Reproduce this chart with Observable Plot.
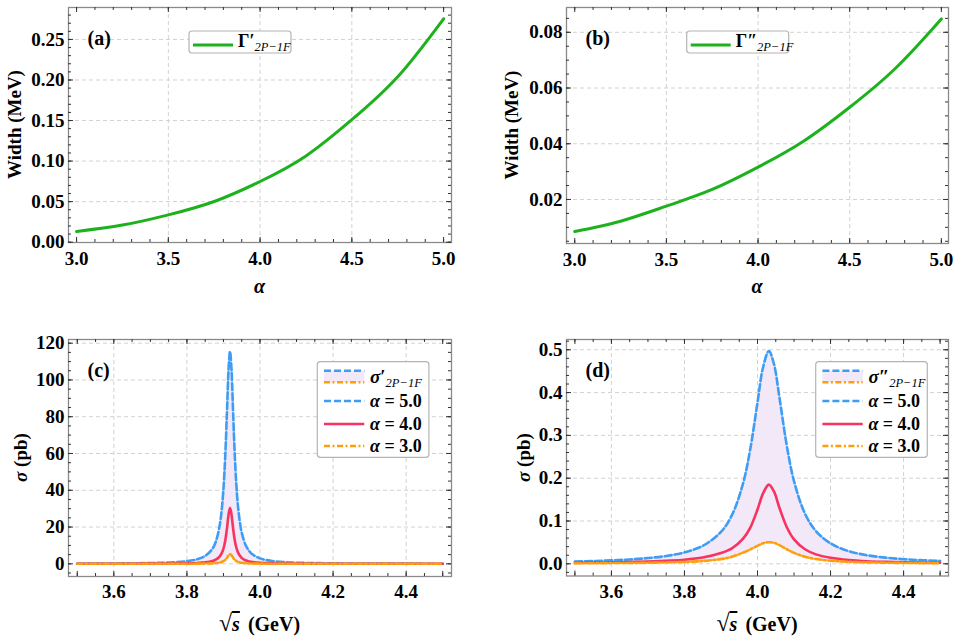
<!DOCTYPE html>
<html><head><meta charset="utf-8">
<script src="https://cdn.jsdelivr.net/npm/d3@7"></script>
<script src="https://cdn.jsdelivr.net/npm/@observablehq/plot@0.6"></script>
<style>
html,body{margin:0;padding:0;background:#fff;}
#wrap{position:relative;width:959px;height:636px;overflow:hidden;background:#fff;}
.panel{position:absolute;}
#wrap svg, #wrap svg text{font-family:"Liberation Serif","Times New Roman",Times,"DejaVu Serif",serif;}
</style></head><body><div id="wrap"></div>
<script>
// ---------- data ----------
const alphaValues = [3.0, 3.25, 3.5, 3.75, 4.0, 4.25, 4.5, 4.75, 5.0];
const widthPrime = [0.0132, 0.0211, 0.0337, 0.0502, 0.0748, 0.1063, 0.151, 0.204, 0.2755];
const widthDoublePrime = [0.0085, 0.0122, 0.0176, 0.0236, 0.0316, 0.041, 0.0531, 0.0671, 0.0848];

const sqrtsC = [3.5, 3.6, 3.7, 3.75, 3.8, 3.83, 3.85, 3.87, 3.88, 3.89, 3.895, 3.9, 3.905, 3.91, 3.914, 3.918, 3.922, 3.926, 3.93, 3.935, 3.94, 3.945, 3.95, 3.96, 3.97, 3.98, 4.0, 4.03, 4.07, 4.1, 4.2, 4.3, 4.4, 4.5];
const sigmaC_a5 = [0.117, 0.202, 0.428, 0.72, 1.45, 2.58, 4.26, 8.23, 12.6, 21.3, 28.9, 40.8, 59.1, 84.8, 105.9, 115.5, 105.9, 84.8, 63.7, 43.9, 30.9, 22.6, 17.0, 10.5, 7.09, 5.08, 2.96, 1.61, 0.878, 0.613, 0.256, 0.140, 0.088, 0.060];
const sigmaC_a4 = [0.0211, 0.0365, 0.0774, 0.130, 0.263, 0.469, 0.778, 1.52, 2.36, 4.08, 5.68, 8.29, 12.7, 19.9, 26.9, 30.5, 26.9, 19.9, 13.9, 9.0, 6.1, 4.34, 3.22, 1.96, 1.31, 0.93, 0.539, 0.291, 0.159, 0.111, 0.0463, 0.0253, 0.0159, 0.0109];
const sigmaC_a3 = [0.0036, 0.0062, 0.0132, 0.0222, 0.0448, 0.080, 0.133, 0.259, 0.402, 0.696, 0.968, 1.41, 2.17, 3.39, 4.59, 5.2, 4.59, 3.39, 2.37, 1.53, 1.04, 0.74, 0.549, 0.334, 0.223, 0.159, 0.092, 0.050, 0.027, 0.019, 0.0079, 0.0043, 0.0027, 0.0019];

const sqrtsD = [3.5, 3.55, 3.6, 3.65, 3.7, 3.75, 3.8, 3.85, 3.9, 3.93, 3.96, 3.98, 4.0, 4.015, 4.031, 4.045, 4.06, 4.08, 4.1, 4.13, 4.16, 4.2, 4.25, 4.3, 4.35, 4.4, 4.45, 4.5];
const sigmaD_a5 = [0.0053, 0.0064, 0.0080, 0.0101, 0.0134, 0.0183, 0.0267, 0.042, 0.0745, 0.1137, 0.1864, 0.267, 0.377, 0.458, 0.497, 0.467, 0.389, 0.277, 0.193, 0.1172, 0.0765, 0.0476, 0.0295, 0.0200, 0.0144, 0.0108, 0.0084, 0.0067];
const sigmaD_a4 = [0.0022, 0.0027, 0.0033, 0.0042, 0.0054, 0.0072, 0.0095, 0.0145, 0.025, 0.036, 0.058, 0.084, 0.127, 0.164, 0.185, 0.169, 0.131, 0.086, 0.057, 0.034, 0.022, 0.014, 0.0088, 0.006, 0.0045, 0.0035, 0.0028, 0.0023];
const sigmaD_a3 = [0.0012, 0.0014, 0.0017, 0.002, 0.0025, 0.0032, 0.0043, 0.0065, 0.011, 0.0165, 0.026, 0.0335, 0.042, 0.048, 0.0505, 0.049, 0.0435, 0.034, 0.0255, 0.0165, 0.011, 0.0072, 0.0046, 0.0033, 0.0025, 0.002, 0.0016, 0.0013];

const panelLabels = ["(a)", "(b)", "(c)", "(d)"];
const alphaLevels = ["5.0", "4.0", "3.0"];
const xTicksAlpha = [3.0, 3.5, 4.0, 4.5, 5.0];
const xTicksS = [3.6, 3.8, 4.0, 4.2, 4.4];
const yTicksA = [0, 0.05, 0.10, 0.15, 0.20, 0.25];
const yTicksB = [0.02, 0.04, 0.06, 0.08];
const yTicksC = [0, 20, 40, 60, 80, 100, 120];
const yTicksD = [0, 0.1, 0.2, 0.3, 0.4, 0.5];

// ---------- style ----------
const GREEN = "#1db21d", BLUE = "#3d9df5", RED = "#f7335f", ORANGE = "#ff9e0d", LAV = "#f2e8f7";
const DASH = "7,3", DOTDASH = "6,2.5,2,2.5";
const FONT = "\"Liberation Serif\",\"Times New Roman\",Times,\"DejaVu Serif\",serif";
const rng = (a, b, s) => d3.range(Math.round((b - a) / s) + 1).map(i => +(a + i * s).toFixed(6));

function panel(cfg) {
  const {left, top, width, height, ml, mr, mt, mb, xDomain, yDomain,
    xMajor, xLabels, xMinor, yMajor, yMinor, xGrid, yGrid, xFmt, yFmt, marks, label, xPad} = cfg;
  const fw = width - ml - mr, fh = height - mt - mb;
  const inX = v => v >= xDomain[0] && v <= xDomain[1];
  const inY = v => v >= yDomain[0] && v <= yDomain[1];
  const xm = xMinor.filter(inX), ym = yMinor.filter(inY);
  const tickStyle = {stroke: "#333", strokeWidth: 1};
  const svg = Plot.plot({
    width, height, marginLeft: ml, marginRight: mr, marginTop: mt, marginBottom: mb,
    style: {fontFamily: FONT, fontSize: "19px", fontWeight: "bold", background: "transparent", color: "#000"},
    x: {domain: xDomain},
    y: {domain: yDomain},
    marks: [
      Plot.gridX(xGrid, {stroke: "#d2d2d2", strokeOpacity: 1, strokeDasharray: "4,3"}),
      Plot.gridY(yGrid, {stroke: "#d2d2d2", strokeOpacity: 1, strokeDasharray: "4,3"}),
      ...marks,
      Plot.frame({stroke: "#8a8a8a", strokeWidth: 1.3}),
      Plot.tickX(xMajor, {x: d => d, insetTop: fh - 5, ...tickStyle}),
      Plot.tickX(xMajor, {x: d => d, insetBottom: fh - 5, ...tickStyle}),
      Plot.tickX(xm, {x: d => d, insetTop: fh - 3, ...tickStyle}),
      Plot.tickX(xm, {x: d => d, insetBottom: fh - 3, ...tickStyle}),
      Plot.tickY(yMajor, {y: d => d, insetRight: fw - 5, ...tickStyle}),
      Plot.tickY(yMajor, {y: d => d, insetLeft: fw - 5, ...tickStyle}),
      Plot.tickY(ym, {y: d => d, insetRight: fw - 3, ...tickStyle}),
      Plot.tickY(ym, {y: d => d, insetLeft: fw - 3, ...tickStyle}),
      Plot.axisX({ticks: xLabels, tickSize: 0, tickPadding: xPad, tickFormat: xFmt, label: null, fontFamily: FONT}),
      Plot.axisY({ticks: yMajor.filter(inY), tickSize: 0, tickPadding: 4, tickFormat: yFmt, label: null, fontFamily: FONT}),
      Plot.text([label], {frameAnchor: "top-left", text: d => d, dx: 19, dy: 31, textAnchor: "start", lineAnchor: "middle", fontSize: 20, fontWeight: "bold", fontFamily: FONT})
    ]
  });
  const div = document.createElement("div");
  div.className = "panel";
  div.style.left = left + "px";
  div.style.top = top + "px";
  div.appendChild(svg);
  document.getElementById("wrap").appendChild(div);
  return d3.select(svg);
}

function addText(g, x, y, parts, opts = {}) {
  const t = g.append("text").attr("x", x).attr("y", y)
    .style("font-family", FONT).attr("font-weight", "bold").attr("font-size", opts.size || 19)
    .attr("text-anchor", opts.anchor || "start").attr("fill", "#000");
  if (opts.transform) t.attr("transform", opts.transform);
  if (opts.dy) t.attr("dy", opts.dy);
  for (const p of parts) {
    const s = t.append("tspan").text(p.t);
    if (p.italic) s.attr("font-style", "italic");
    if (p.normal) s.attr("font-weight", "normal");
    if (p.size) s.attr("font-size", p.size);
    if (p.dy) s.attr("dy", p.dy);
    if (p.dx) s.attr("dx", p.dx);
    if (p.over) s.style("text-decoration", "overline");
  }
  return t;
}

function legendSimple(svg, x, mainSym) {
  const g = svg.append("g");
  g.append("rect").attr("x", x).attr("y", 31).attr("width", 102).attr("height", 22).attr("rx", 3)
    .attr("fill", "white").attr("stroke", "#b4b4b4").attr("stroke-width", 1.2);
  g.append("line").attr("x1", x + 4).attr("x2", x + 44).attr("y1", 45).attr("y2", 45)
    .attr("stroke", GREEN).attr("stroke-width", 3);
  addText(g, x + 49, 46.5, [{t: mainSym}, {t: "2P−1F", italic: true, normal: true, size: 12.5, dy: 4}], {size: 18});
}

function legendSigma(svg, bx, primeSym) {
  const g = svg.append("g");
  g.append("rect").attr("x", bx).attr("y", 51.7).attr("width", 111.6).attr("height", 95.6).attr("rx", 3)
    .attr("fill", "white").attr("stroke", "#b4b4b4").attr("stroke-width", 1.2);
  const lx1 = bx + 6.7, lx2 = bx + 47, tx = bx + 52.7;
  g.append("rect").attr("x", lx1).attr("y", 60.7).attr("width", lx2 - lx1).attr("height", 11.6).attr("fill", LAV);
  const ln = (y, color, dash) => {
    const l = g.append("line").attr("x1", lx1).attr("x2", lx2).attr("y1", y).attr("y2", y)
      .attr("stroke", color).attr("stroke-width", 2.6);
    if (dash) l.attr("stroke-dasharray", dash);
  };
  ln(60.7, BLUE, DASH); ln(72.3, ORANGE, DOTDASH);
  addText(g, tx, 72.7, [{t: "σ", italic: true}, {t: primeSym}, {t: "2P−1F", italic: true, normal: true, size: 12.5, dy: 4}], {size: 19});
  const rows = [[91, BLUE, DASH, 97.3], [114, RED, null, 120], [136, ORANGE, DOTDASH, 142]];
  rows.forEach(([y, c, d, by], i) => {
    ln(y, c, d);
    addText(g, tx, by, [{t: "α", italic: true}, {t: " = " + alphaLevels[i]}], {size: 18});
  });
}

// ---------- panel (a) ----------
const rowsA = alphaValues.map((a, i) => ({a, w: widthPrime[i]}));
const svgA = panel({
  left: 0, top: 0, width: 480, height: 310, ml: 68, mr: 29, mt: 7, mb: 68,
  xDomain: [2.956, 5.043], yDomain: [-0.0004, 0.2894],
  xMajor: xTicksAlpha, xLabels: xTicksAlpha, xMinor: rng(3.0, 5.0, 0.1), yMajor: yTicksA, yMinor: rng(0, 0.28, 0.01),
  xGrid: [3.5, 4.0, 4.5], yGrid: yTicksA.slice(1), xFmt: d3.format(".1f"), yFmt: d3.format(".2f"), xPad: 9,
  label: panelLabels[0],
  marks: [Plot.line(rowsA, {x: "a", y: "w", stroke: GREEN, strokeWidth: 3, curve: "natural"})]
});
legendSimple(svgA, 189, "Γ′");
addText(svgA, 259.5, 293, [{t: "α", italic: true}], {anchor: "middle", size: 20});
addText(svgA, 0, 0, [{t: "Width (MeV)"}], {anchor: "middle", transform: "translate(14.5,124.5) rotate(-90)", dy: "0.33em"});

// ---------- panel (b) ----------
const rowsB = alphaValues.map((a, i) => ({a, w: widthDoublePrime[i]}));
const svgB = panel({
  left: 480, top: 0, width: 479, height: 310, ml: 86, mr: 11, mt: 7, mb: 67,
  xDomain: [2.955, 5.039], yDomain: [0.0042, 0.0889],
  xMajor: xTicksAlpha, xLabels: xTicksAlpha, xMinor: rng(3.0, 5.0, 0.1), yMajor: yTicksB, yMinor: rng(0.005, 0.085, 0.005),
  xGrid: [3.5, 4.0, 4.5], yGrid: yTicksB, xFmt: d3.format(".1f"), yFmt: d3.format(".2f"), xPad: 9,
  label: panelLabels[1],
  marks: [Plot.line(rowsB, {x: "a", y: "w", stroke: GREEN, strokeWidth: 3, curve: "natural"})]
});
legendSimple(svgB, 206.7, "Γ″");
addText(svgB, 277, 293, [{t: "α", italic: true}], {anchor: "middle", size: 20});
addText(svgB, 0, 0, [{t: "Width (MeV)"}], {anchor: "middle", transform: "translate(32,125) rotate(-90)", dy: "0.33em"});

// ---------- panels (c), (d) ----------
function sigmaMarks(rows) {
  return [
    Plot.areaY(rows, {x: "s", y1: "a3", y2: "a5", fill: LAV, curve: "catmull-rom"}),
    Plot.line(rows, {x: "s", y: "a5", stroke: BLUE, strokeWidth: 2.6, strokeDasharray: DASH, curve: "catmull-rom"}),
    Plot.line(rows, {x: "s", y: "a4", stroke: RED, strokeWidth: 2.6, curve: "catmull-rom"}),
    Plot.line(rows, {x: "s", y: "a3", stroke: ORANGE, strokeWidth: 2.6, strokeDasharray: DOTDASH, curve: "catmull-rom"})
  ];
}
const rowsC = sqrtsC.map((s, i) => ({s, a5: sigmaC_a5[i], a4: sigmaC_a4[i], a3: sigmaC_a3[i]}));
const svgC = panel({
  left: 0, top: 310, width: 480, height: 326, ml: 68, mr: 29, mt: 29, mb: 60,
  xDomain: [3.476, 4.524], yDomain: [-6.9, 122],
  xMajor: [3.5, ...xTicksS, 4.5], xLabels: xTicksS, xMinor: rng(3.5, 4.5, 0.05), yMajor: yTicksC, yMinor: rng(-5, 120, 5),
  xGrid: xTicksS, yGrid: yTicksC, xFmt: d3.format(".1f"), yFmt: d3.format("d"), xPad: 8,
  label: panelLabels[2],
  marks: sigmaMarks(rowsC)
});
legendSigma(svgC, 317.3, "′");

const rowsD = sqrtsD.map((s, i) => ({s, a5: sigmaD_a5[i], a4: sigmaD_a4[i], a3: sigmaD_a3[i]}));
const svgD = panel({
  left: 480, top: 310, width: 479, height: 326, ml: 86, mr: 11, mt: 29, mb: 60.5,
  xDomain: [3.477, 4.523], yDomain: [-0.0285, 0.524],
  xMajor: [3.5, ...xTicksS, 4.5], xLabels: xTicksS, xMinor: rng(3.5, 4.5, 0.05), yMajor: yTicksD, yMinor: rng(-0.02, 0.52, 0.02),
  xGrid: xTicksS, yGrid: yTicksD, xFmt: d3.format(".1f"), yFmt: d3.format(".1f"), xPad: 8,
  label: panelLabels[3],
  marks: sigmaMarks(rowsD)
});
legendSigma(svgD, 335.7, "″");

for (const [svg, cx, yx] of [[svgC, 259.5, 21.7], [svgD, 277, 44]]) {
  addText(svg, cx, 321, [{t: "√", normal: true, size: 24}, {t: "s", italic: true, over: true}, {t: "(GeV)", dx: 8}], {anchor: "middle", size: 20});
  addText(svg, 0, 0, [{t: "σ", italic: true}, {t: " (pb)"}], {anchor: "middle", transform: `translate(${yx},147.5) rotate(-90)`, dy: "0.3em"});
}
</script>
</body></html>
